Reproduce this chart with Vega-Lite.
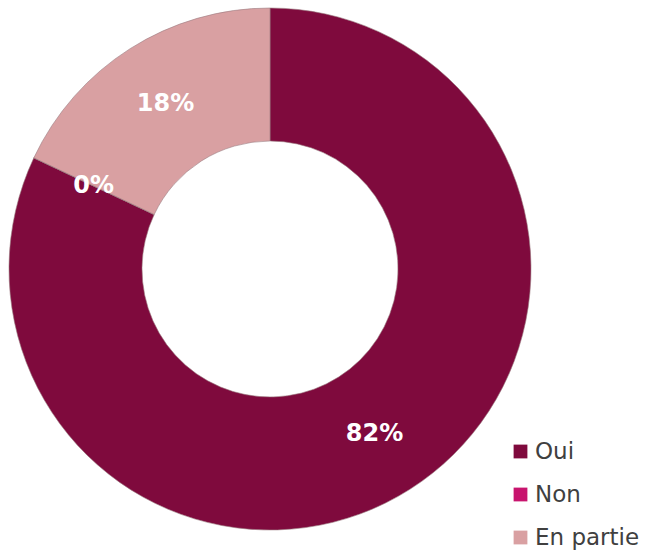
{
  "$schema": "https://vega.github.io/schema/vega-lite/v6.json",
  "width": 540,
  "height": 538,
  "autosize": {"type": "none"},
  "padding": {"left": 0, "top": 0, "right": 109, "bottom": 21},
  "background": "white",
  "data": {"values": [
    {"reponse": "Oui", "valeur": 82, "label": "82%", "rang": 1},
    {"reponse": "Non", "valeur": 0, "label": "0%", "rang": 2},
    {"reponse": "En partie", "valeur": 18, "label": "18%", "rang": 3}
  ]},
  "encoding": {
    "theta": {"field": "valeur", "type": "quantitative", "stack": true},
    "order": {"field": "rang", "type": "quantitative"}
  },
  "layer": [
    {
      "mark": {"type": "arc", "outerRadius": 261, "innerRadius": 128, "stroke": "#9a7a80", "strokeWidth": 0.6},
      "encoding": {
        "color": {
          "field": "reponse", "type": "nominal",
          "scale": {"domain": ["Oui", "Non", "En partie"], "range": ["#7f0a3d", "#c8146e", "#d9a0a2"]},
          "legend": {
            "title": null,
            "orient": "none",
            "legendX": 509,
            "legendY": 440,
            "symbolType": "square",
            "symbolSize": 190,
            "symbolStrokeWidth": 0,
            "labelFont": "DejaVu Sans",
            "labelFontSize": 23,
            "labelColor": "#404040",
            "labelOffset": 3,
            "rowPadding": 19
          }
        }
      }
    },
    {
      "mark": {"type": "text", "radius": 195, "font": "DejaVu Sans", "fontSize": 24, "fontWeight": "bold", "color": "white"},
      "encoding": {
        "text": {"field": "label", "type": "nominal"}
      }
    }
  ]
}
